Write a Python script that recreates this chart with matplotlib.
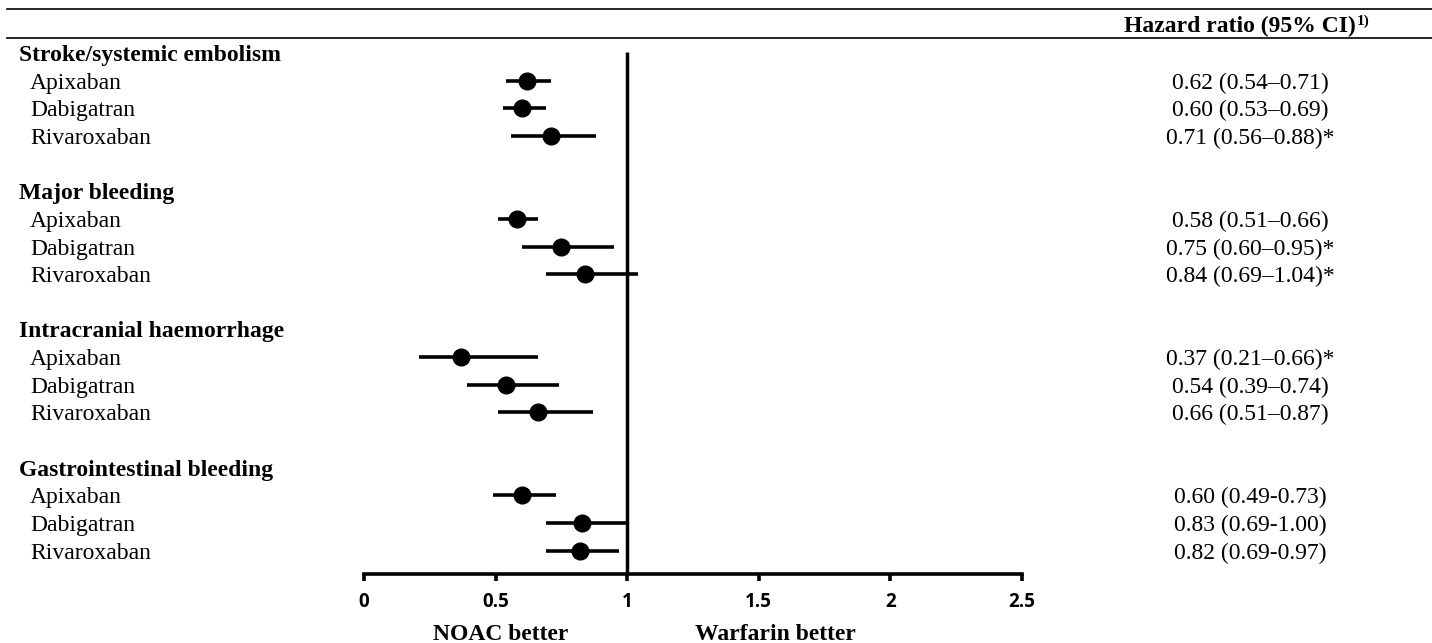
"""
Forest plot: NOAC vs warfarin hazard ratios, four outcomes x three drugs.
"""
import matplotlib
matplotlib.use("Agg")
import matplotlib.pyplot as plt
from matplotlib import transforms
from matplotlib.lines import Line2D

W, H, DPI = 1432, 643, 100

groups = ["Stroke/systemic embolism", "Major bleeding",
          "Intracranial haemorrhage", "Gastrointestinal bleeding"]
drugs = ["Apixaban", "Dabigatran", "Rivaroxaban"]

hr = [[0.62, 0.60, 0.71], [0.58, 0.75, 0.84], [0.37, 0.54, 0.66], [0.60, 0.83, 0.82]]
ci_lo = [[0.54, 0.53, 0.56], [0.51, 0.60, 0.69], [0.21, 0.39, 0.51], [0.49, 0.69, 0.69]]
ci_hi = [[0.71, 0.69, 0.88], [0.66, 0.95, 1.04], [0.66, 0.74, 0.87], [0.73, 1.00, 0.97]]
hr_text = [["0.62 (0.54\u20130.71)", "0.60 (0.53\u20130.69)", "0.71 (0.56\u20130.88)*"],
           ["0.58 (0.51\u20130.66)", "0.75 (0.60\u20130.95)*", "0.84 (0.69\u20131.04)*"],
           ["0.37 (0.21\u20130.66)*", "0.54 (0.39\u20130.74)", "0.66 (0.51\u20130.87)"],
           ["0.60 (0.49-0.73)", "0.83 (0.69-1.00)", "0.82 (0.69-0.97)"]]

xticks = [0, 0.5, 1, 1.5, 2, 2.5]
xticklabels = ["0", "0.5", "1", "1.5", "2", "2.5"]

SERIF = "Liberation Serif"
FS = 17

# row r sits at pixel y = Y0 + DY * r
Y0, DY = 53.0, 27.65
def px2row(py):
    return (py - Y0) / DY

fig = plt.figure(figsize=(W / DPI, H / DPI), dpi=DPI)
ax = fig.add_axes([364 / W, 0, (1022 - 364) / W, 1])
ax.set_xlim(0, 2.5)
ax.set_ylim(px2row(H), px2row(0))
trans = transforms.blended_transform_factory(fig.transFigure, ax.transData)

axis_row = px2row(574)
for g, name in enumerate(groups):
    r0 = 5 * g
    ax.text(19 / W, r0, name, transform=trans, family=SERIF, fontsize=FS,
            fontweight="bold", ha="left", va="center_baseline")
    rows = [r0 + 1 + i for i in range(len(drugs))]
    for i, d in enumerate(drugs):
        ax.text(30 / W, rows[i], d, transform=trans, family=SERIF, fontsize=FS,
                ha="left", va="center_baseline")
        ax.text(1250 / W, rows[i], hr_text[g][i], transform=trans, family=SERIF,
                fontsize=FS, ha="center", va="center_baseline")
    ax.hlines(rows, ci_lo[g], ci_hi[g], color="black", lw=2.6, clip_on=False)
    ax.plot(hr[g], rows, "o", color="black", ms=12, clip_on=False)

ax.vlines(1, -0.03, axis_row, color="black", lw=2.5)

# x axis
for s in ["top", "left", "right"]:
    ax.spines[s].set_visible(False)
ax.spines["bottom"].set_position(("data", axis_row))
ax.spines["bottom"].set_linewidth(2.6)
ax.set_yticks([])
ax.set_xticks(xticks)
ax.set_xticklabels(xticklabels, family="Open Sans", fontweight="bold", fontsize=13.5)
ax.tick_params(axis="x", direction="out", length=5, width=2.6, pad=8)
ax.patch.set_visible(False)

ax.text(0.52, px2row(640), "NOAC better", family=SERIF, fontsize=FS,
        fontweight="bold", ha="center", va="baseline")
ax.text(1.563, px2row(640), "Warfarin better", family=SERIF, fontsize=FS,
        fontweight="bold", ha="center", va="baseline")

# header with rules
hdr = ax.text(1240 / W, px2row(24), "Hazard ratio (95% CI)", transform=trans,
              family=SERIF, fontsize=FS, fontweight="bold", ha="center",
              va="center_baseline")
ax.annotate("1)", xy=(1, 1), xytext=(0.5, 1), xycoords=hdr, textcoords="offset points",
            family=SERIF, fontsize=11, fontweight="bold", ha="left", va="top")
for py in (9, 38):
    fig.add_artist(Line2D([7 / W, 1], [1 - py / H] * 2, color="black", lw=1.2))

fig.savefig("out.png", dpi=DPI)
